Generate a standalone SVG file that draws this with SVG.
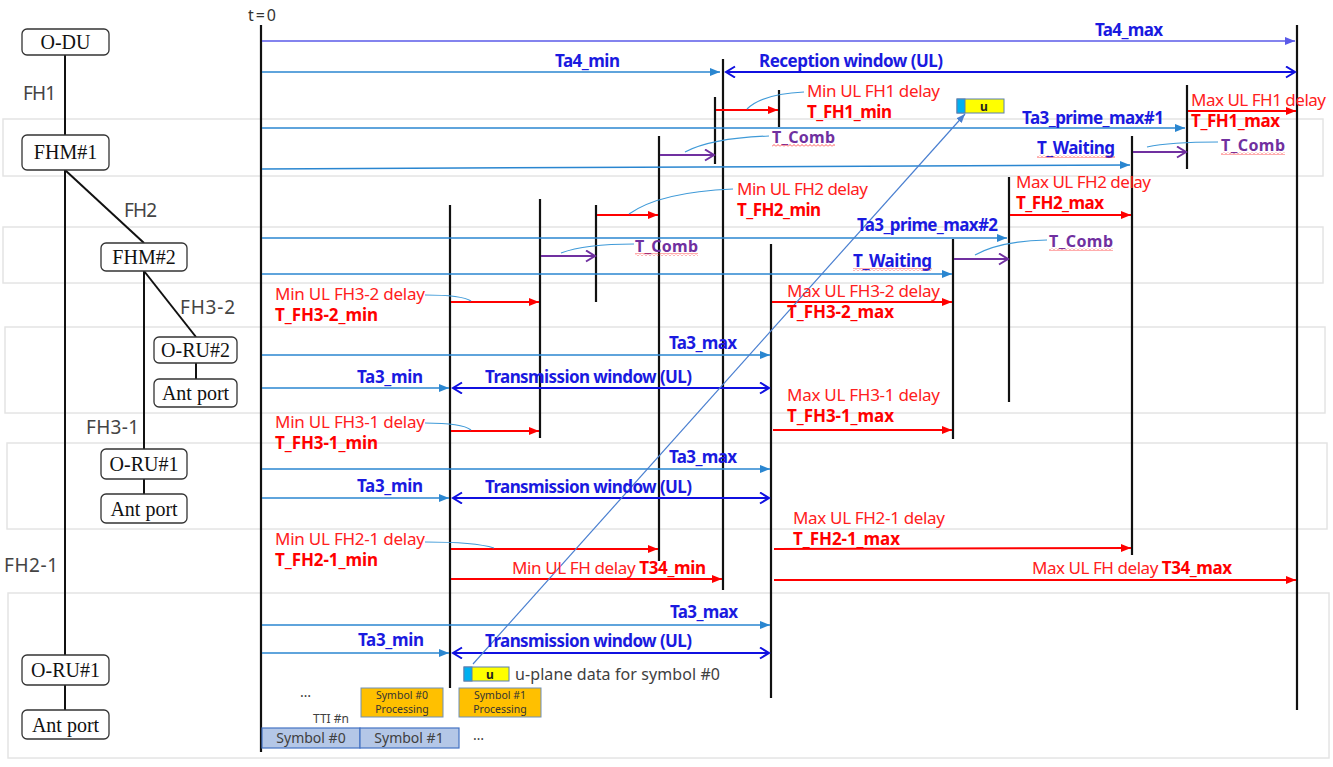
<svg xmlns="http://www.w3.org/2000/svg" width="1333" height="767" viewBox="0 0 1333 767">
<defs>
<marker id="mB" markerUnits="userSpaceOnUse" markerWidth="11" markerHeight="9" refX="10" refY="4" orient="auto"><path d="M0,0 L10,4 L0,8 z" fill="#2a86d0"/></marker>
<marker id="mT" markerUnits="userSpaceOnUse" markerWidth="11" markerHeight="9" refX="10" refY="4" orient="auto"><path d="M0,0 L10,4 L0,8 z" fill="#5a5ae8"/></marker>
<marker id="mR" markerUnits="userSpaceOnUse" markerWidth="11" markerHeight="9" refX="10" refY="4" orient="auto"><path d="M0,0 L10,4 L0,8 z" fill="#ff0000"/></marker>
<marker id="mP" markerUnits="userSpaceOnUse" markerWidth="12" markerHeight="14" refX="10" refY="6" orient="auto"><path d="M1,0.5 L10,6 L1,11.5" fill="none" stroke="#7030a0" stroke-width="2"/></marker>
<marker id="mD" markerUnits="userSpaceOnUse" markerWidth="12" markerHeight="14" refX="10" refY="6" orient="auto-start-reverse"><path d="M1,0.5 L10,6 L1,11.5" fill="none" stroke="#1010e0" stroke-width="2"/></marker>
<marker id="mL" markerUnits="userSpaceOnUse" markerWidth="10" markerHeight="8" refX="9" refY="3.5" orient="auto"><path d="M0,0 L9,3.5 L0,7 z" fill="#4a7fd0"/></marker>
<pattern id="wave" patternUnits="userSpaceOnUse" width="4" height="3"><polyline points="0,2.5 2,0.5 4,2.5" fill="none" stroke="#ff3030" stroke-width="0.8"/></pattern>
</defs>
<style>
.band{fill:#fff;stroke:#e4e4e4;stroke-width:1.5}
.node rect{fill:#fff;stroke:#333;stroke-width:1.3}
.node text{font-family:"Liberation Serif",serif;font-size:20px;text-anchor:middle;fill:#111}
.edge{stroke:#111;stroke-width:2;fill:none}
.fh{font-family:"Noto Sans","Liberation Sans",sans-serif;font-size:19px;fill:#444}
.vl{stroke:#111;stroke-width:2.2}
.lb{stroke:#2a86d0;stroke-width:1.5;fill:none;marker-end:url(#mB)}
.rd{stroke:#ff0000;stroke-width:2;fill:none;marker-end:url(#mR)}
.pu{stroke:#7030a0;stroke-width:2;fill:none;marker-end:url(#mP)}
.dw{stroke:#1010e0;stroke-width:2;fill:none;marker-start:url(#mD);marker-end:url(#mD)}
.co{stroke:#3f9ad8;stroke-width:1.2;fill:none}
.t{font-family:"Noto Sans","Liberation Sans",sans-serif}
.red{fill:#ff2020;font-size:17px}
.redb{fill:#ff0000;font-size:17px;font-weight:bold}
.blu{fill:#1a1ae0;font-size:17px;font-weight:bold}
.pur{fill:#7030a0;font-size:16px;font-weight:bold}
.gr{fill:#404040}
.proc{fill:#ffc000;stroke:#6f8fb8;stroke-width:1}
.sym{fill:#b4c7e7;stroke:#4472c4;stroke-width:1.2}
</style>

<g id="bands">
<rect class="band" x="3" y="119" width="1320" height="57"/>
<rect class="band" x="3" y="227" width="1320" height="56"/>
<rect class="band" x="5" y="327" width="1320" height="86"/>
<rect class="band" x="7" y="443" width="1320" height="86"/>
<rect class="band" x="8" y="593" width="1321" height="165"/>
</g>

<g id="tree-edges">
<line class="edge" x1="65" y1="55" x2="65" y2="135"/>
<line class="edge" x1="65" y1="170" x2="65" y2="655"/>
<line class="edge" x1="65" y1="170" x2="144" y2="243"/>
<line class="edge" x1="144" y1="271" x2="144" y2="449"/>
<line class="edge" x1="144" y1="271" x2="196" y2="337"/>
<line class="edge" x1="196" y1="363" x2="196" y2="379"/>
<line class="edge" x1="144" y1="479" x2="144" y2="494"/>
<line class="edge" x1="65" y1="685" x2="65" y2="710"/>
<text class="fh" x="23" y="100" textLength="33">FH1</text>
<text class="fh" x="124" y="217" textLength="33">FH2</text>
<text class="fh" x="180" y="314" textLength="55">FH3-2</text>
<text class="fh" x="86" y="434" textLength="53">FH3-1</text>
<text class="fh" x="4" y="572" textLength="54">FH2-1</text>
</g>

<g id="odu" class="node"><rect x="22" y="29" width="87" height="26" rx="5"/><text x="65.5" y="49">O-DU</text></g>
<g id="fhm1" class="node"><rect x="22" y="135" width="87" height="35" rx="5"/><text x="65.5" y="159">FHM#1</text></g>
<g id="fhm2" class="node"><rect x="101" y="243" width="86" height="28" rx="5"/><text x="144" y="264">FHM#2</text></g>
<g id="oru2" class="node"><rect x="154" y="337" width="83" height="26" rx="5"/><text x="195.5" y="357">O-RU#2</text></g>
<g id="ant2" class="node"><rect x="154" y="379" width="83" height="28" rx="5"/><text x="195.5" y="400">Ant port</text></g>
<g id="oru1m" class="node"><rect x="101" y="449" width="86" height="30" rx="5"/><text x="144" y="471">O-RU#1</text></g>
<g id="ant1m" class="node"><rect x="101" y="494" width="86" height="29" rx="5"/><text x="144" y="516">Ant port</text></g>
<g id="oru1" class="node"><rect x="22" y="655" width="87" height="30" rx="5"/><text x="65.5" y="677">O-RU#1</text></g>
<g id="ant1" class="node"><rect x="22" y="710" width="87" height="29" rx="5"/><text x="65.5" y="732">Ant port</text></g>

<g id="time-markers">
<line class="vl" x1="261" y1="25" x2="261" y2="752" stroke-width="2.6"/>
<line class="vl" x1="450" y1="205" x2="450" y2="688"/>
<line class="vl" x1="540" y1="199" x2="540" y2="438"/>
<line class="vl" x1="596" y1="205" x2="596" y2="302"/>
<line class="vl" x1="659" y1="136" x2="659" y2="561"/>
<line class="vl" x1="715" y1="97" x2="715" y2="164"/>
<line class="vl" x1="723" y1="59" x2="723" y2="590"/>
<line class="vl" x1="779" y1="90" x2="779" y2="127"/>
<line class="vl" x1="771" y1="244" x2="771" y2="698"/>
<line class="vl" x1="953" y1="239" x2="953" y2="439"/>
<line class="vl" x1="1009" y1="177" x2="1009" y2="402"/>
<line class="vl" x1="1132" y1="136" x2="1132" y2="555"/>
<line class="vl" x1="1187" y1="85" x2="1187" y2="169"/>
<line class="vl" x1="1297" y1="25" x2="1297" y2="710"/>
<text class="t" x="248" y="21" font-size="16" fill="#333" textLength="28">t=0</text>
</g>

<g id="connectors">
<line x1="262" y1="41" x2="1295" y2="41" stroke="#5a5ae8" stroke-width="1.6" marker-end="url(#mT)"/>
<line class="lb" x1="262" y1="72" x2="720" y2="72"/>
<line class="dw" x1="726" y1="72" x2="1295" y2="72"/>
<line class="lb" x1="262" y1="128" x2="1185" y2="128"/>
<line class="lb" x1="262" y1="169" x2="1130" y2="165"/>
<line class="lb" x1="262" y1="238" x2="1007" y2="238"/>
<line class="lb" x1="262" y1="274" x2="952" y2="274"/>
<line class="lb" x1="262" y1="355" x2="770" y2="355"/>
<line class="lb" x1="262" y1="388" x2="449" y2="388"/>
<line class="dw" x1="453" y1="388" x2="769" y2="388"/>
<line class="lb" x1="262" y1="469" x2="770" y2="469"/>
<line class="lb" x1="262" y1="498" x2="449" y2="498"/>
<line class="dw" x1="453" y1="498" x2="769" y2="498"/>
<line class="lb" x1="262" y1="625" x2="770" y2="625"/>
<line class="lb" x1="262" y1="653" x2="449" y2="653"/>
<line class="dw" x1="453" y1="653" x2="769" y2="653"/>

<line class="rd" x1="716" y1="110" x2="778" y2="110"/>
<line class="rd" x1="1188" y1="111" x2="1296" y2="111"/>
<line class="rd" x1="597" y1="215" x2="658" y2="215"/>
<line class="rd" x1="1010" y1="215" x2="1131" y2="215"/>
<line class="rd" x1="451" y1="302" x2="539" y2="302"/>
<line class="rd" x1="772" y1="302" x2="952" y2="302"/>
<line class="rd" x1="451" y1="431" x2="539" y2="431"/>
<line class="rd" x1="773" y1="430" x2="952" y2="430"/>
<line class="rd" x1="451" y1="549" x2="658" y2="549"/>
<line class="rd" x1="774" y1="549" x2="1131" y2="548"/>
<line class="rd" x1="451" y1="579" x2="722" y2="579"/>
<line class="rd" x1="774" y1="580" x2="1296" y2="580"/>

<line class="pu" x1="660" y1="155" x2="714" y2="155"/>
<line class="pu" x1="1133" y1="152" x2="1186" y2="152"/>
<line class="pu" x1="541" y1="256" x2="595" y2="256"/>
<line class="pu" x1="954" y1="259" x2="1008" y2="259"/>

<path class="co" d="M747,109 Q762,94 804,92"/>
<path class="co" d="M685,152 Q712,138 769,136"/>
<path class="co" d="M629,214 Q660,192 733,189"/>
<path class="co" d="M561,253 Q585,244 634,244"/>
<path class="co" d="M1147,147 Q1170,142 1218,142"/>
<path class="co" d="M975,255 Q1000,241 1047,240"/>
<path class="co" d="M425,295 Q462,295 471,301"/>
<path class="co" d="M425,423 Q462,423 471,430"/>
<path class="co" d="M425,542 Q475,542 494,548"/>

<line x1="473" y1="664" x2="965" y2="114" stroke="#4a7fd0" stroke-width="1.2" marker-end="url(#mL)"/>
</g>

<g id="labels" class="t">
<text class="blu" x="1095" y="36" textLength="68">Ta4_max</text>
<text class="blu" x="555" y="67" textLength="65">Ta4_min</text>
<text class="blu" x="759" y="67" textLength="184">Reception window (UL)</text>
<text class="red" x="807" y="97" textLength="133">Min UL FH1 delay</text>
<text class="redb" x="807" y="118" textLength="85">T_FH1_min</text>
<text class="red" x="1191" y="106" textLength="135">Max UL FH1 delay</text>
<text class="redb" x="1191" y="127" textLength="89">T_FH1_max</text>
<text class="blu" x="1022" y="124" textLength="142">Ta3_prime_max#1</text>
<text class="pur" x="772" y="143" textLength="63">T_Comb</text>
<rect x="772" y="144" width="63" height="3" fill="url(#wave)"/>
<text class="blu" x="1037" y="154" textLength="78">T_Waiting</text>
<rect x="1037" y="155" width="78" height="3" fill="url(#wave)"/>
<text class="pur" x="1221" y="151" textLength="64">T_Comb</text>
<rect x="1221" y="152" width="64" height="3" fill="url(#wave)"/>
<text class="red" x="737" y="195" textLength="131">Min UL FH2 delay</text>
<text class="redb" x="737" y="216" textLength="84">T_FH2_min</text>
<text class="red" x="1016" y="188" textLength="135">Max UL FH2 delay</text>
<text class="redb" x="1016" y="209" textLength="88">T_FH2_max</text>
<text class="blu" x="857" y="231" textLength="141">Ta3_prime_max#2</text>
<text class="pur" x="635" y="252" textLength="63">T_Comb</text>
<rect x="635" y="253" width="63" height="3" fill="url(#wave)"/>
<text class="pur" x="1049" y="247" textLength="64">T_Comb</text>
<rect x="1049" y="248" width="64" height="3" fill="url(#wave)"/>
<text class="blu" x="853" y="267" textLength="79">T_Waiting</text>
<rect x="853" y="268" width="79" height="3" fill="url(#wave)"/>
<text class="red" x="275" y="300" textLength="150">Min UL FH3-2 delay</text>
<text class="redb" x="275" y="321" textLength="103">T_FH3-2_min</text>
<text class="red" x="787" y="297" textLength="153">Max UL FH3-2 delay</text>
<text class="redb" x="787" y="318" textLength="107">T_FH3-2_max</text>
<text class="blu" x="669" y="349" textLength="68">Ta3_max</text>
<text class="blu" x="357" y="383" textLength="66">Ta3_min</text>
<text class="blu" x="485" y="383" textLength="207">Transmission window (UL)</text>
<text class="red" x="787" y="401" textLength="153">Max UL FH3-1 delay</text>
<text class="redb" x="787" y="422" textLength="107">T_FH3-1_max</text>
<text class="red" x="275" y="428" textLength="150">Min UL FH3-1 delay</text>
<text class="redb" x="275" y="449" textLength="103">T_FH3-1_min</text>
<text class="blu" x="669" y="463" textLength="68">Ta3_max</text>
<text class="blu" x="357" y="492" textLength="66">Ta3_min</text>
<text class="blu" x="485" y="493" textLength="207">Transmission window (UL)</text>
<text class="red" x="793" y="524" textLength="152">Max UL FH2-1 delay</text>
<text class="redb" x="793" y="545" textLength="107">T_FH2-1_max</text>
<text class="red" x="275" y="545" textLength="150">Min UL FH2-1 delay</text>
<text class="redb" x="275" y="566" textLength="103">T_FH2-1_min</text>
<text class="red" x="512" y="574" textLength="194">Min UL FH delay <tspan font-weight="bold" fill="#ff0000">T34_min</tspan></text>
<text class="red" x="1032" y="574" textLength="200">Max UL FH delay <tspan font-weight="bold" fill="#ff0000">T34_max</tspan></text>
<text class="blu" x="670" y="618" textLength="68">Ta3_max</text>
<text class="blu" x="358" y="646" textLength="66">Ta3_min</text>
<text class="blu" x="485" y="647" textLength="207">Transmission window (UL)</text>
</g>

<g id="uplane-top">
<rect x="957" y="99" width="47" height="14" fill="#ffff00" stroke="#5b7fb0" stroke-width="1"/>
<rect x="957" y="99" width="8" height="14" fill="#00b0f0" stroke="#5b7fb0" stroke-width="1"/>
<text class="t" x="984" y="111" font-size="12" font-weight="bold" fill="#222" text-anchor="middle">u</text>
</g>

<g id="uplane-legend">
<rect x="464" y="667" width="45" height="14" fill="#ffff00" stroke="#5b7fb0" stroke-width="1"/>
<rect x="464" y="667" width="8" height="14" fill="#00b0f0" stroke="#5b7fb0" stroke-width="1"/>
<text class="t" x="490" y="679" font-size="12" font-weight="bold" fill="#222" text-anchor="middle">u</text>
<text class="t gr" x="515" y="680" font-size="16" textLength="205">u-plane data for symbol #0</text>
</g>

<g id="processing">
<text class="t gr" x="300" y="697" font-size="14" textLength="18">…</text>
<rect class="proc" x="361" y="688" width="82" height="29"/>
<text class="t" x="402" y="699" font-size="10.5" fill="#333" text-anchor="middle">Symbol #0</text>
<text class="t" x="402" y="713" font-size="10.5" fill="#333" text-anchor="middle">Processing</text>
<rect class="proc" x="459" y="688" width="82" height="29"/>
<text class="t" x="500" y="699" font-size="10.5" fill="#333" text-anchor="middle">Symbol #1</text>
<text class="t" x="500" y="713" font-size="10.5" fill="#333" text-anchor="middle">Processing</text>
<text class="t gr" x="313" y="723" font-size="12">TTI #n</text>
</g>

<g id="symbols">
<rect class="sym" x="262" y="728" width="98" height="20"/>
<rect class="sym" x="360" y="728" width="99" height="20"/>
<text class="t gr" x="311" y="743" font-size="14" text-anchor="middle">Symbol #0</text>
<text class="t gr" x="409" y="743" font-size="14" text-anchor="middle">Symbol #1</text>
<text class="t gr" x="473" y="740" font-size="14" textLength="19">…</text>
</g>
</svg>
